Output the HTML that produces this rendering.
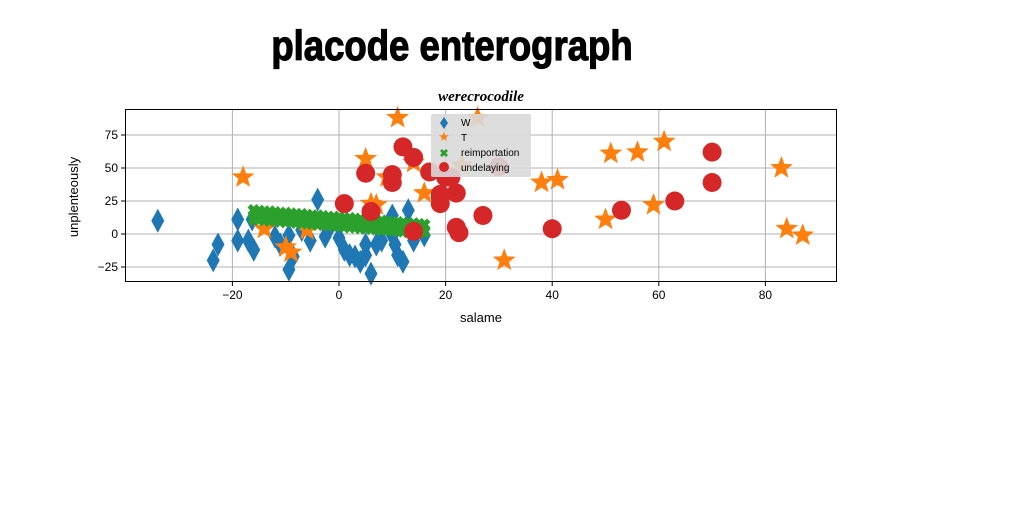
<!DOCTYPE html>
<html><head><meta charset="utf-8">
<style>
body{margin:0;background:#fff;width:1024px;height:512px;overflow:hidden;font-family:"Liberation Sans",sans-serif}
</style></head>
<body>
<svg id="chart" width="1024" height="512">
<text x="452" y="60" text-anchor="middle" font-family="'Liberation Sans Narrow','Liberation Sans',sans-serif" font-weight="bold" font-size="42" stroke="#000" stroke-width="1.2" transform="translate(452,0) scale(0.87,1) translate(-452,0)">placode enterograph</text>
<text x="481" y="101" text-anchor="middle" font-family="'Liberation Serif',serif" font-style="italic" font-weight="bold" font-size="15">werecrocodile</text>
<g id="grid"></g>
<g id="marks"></g>
<rect x="125.5" y="109.5" width="711" height="172" fill="none" stroke="#000" stroke-width="1"/>
<g id="axes"></g>
<text x="481" y="322" text-anchor="middle" font-size="13">salame</text>
<text transform="translate(78,197) rotate(-90)" text-anchor="middle" font-size="13">unplenteously</text>
<g>
<rect x="431" y="114" width="100" height="63" fill="#d9d9d9" opacity="0.9" rx="2"/>
<path d="M444 117 L448 123 L444 129 L440 123Z" fill="#1f77b4"/>
<text x="461" y="126" font-size="10">W</text>
<text x="444" y="141" font-size="13" fill="#ff7f0e" text-anchor="middle">★</text>
<text x="461" y="141" font-size="10">T</text>
<text x="444" y="157" font-size="11" fill="#2ca02c" text-anchor="middle" font-weight="bold">✖</text>
<text x="461" y="156" font-size="10">reimportation</text>
<circle cx="444" cy="167" r="5" fill="#d62728"/>
<text x="461" y="171" font-size="10">undelaying</text>
</g>
</svg>
<script>
const xTicks=[-20,0,20,40,60,80];
const yTicks=[-25,0,25,50,75];
const wX=[-34,-23.6,-22.7,-19,-19,-16.3,-17,-16,-12,-9.4,-9.4,-8.6,-5.4,-4,-2.6,0,1,2,3,5,5,6,7,8,10,10,10.5,12,13,16,14,11,4,-7,-11,-2];
const wY=[10,-20,-8,11,-5,11,-5,-12,-2,-27,-1,-17,-5,26,-2,-3,-12,-16,-17,-16,-8,-30,-8,-5,14,-1,-8,-21,18,-1,-5,-16,-21,3,-8,3];
const tX=[-18,5,11,26,14,23,16,38,41,51,56,61,83,59,50,84,87,31,7,6,-14,-6,-10,-9,9];
const tY=[43,57,88,88,54,52,31,39,41,61,62,70,50,22,11,4,-1,-20,22,23,4,3,-10,-14,43];
const gX=[-16,-15,-14,-13,-12,-11,-10,-9,-8,-7,-6,-5,-4,-3,-2,-1,0,1,2,3,4,5,6,7,8,9,10,11,12,13,14,15,16,
-15.5,-14.5,-13.5,-12.5,-11.5,-10.5,-9.5,-8.5,-7.5,-6.5,-5.5,-4.5,-3.5,-2.5,-1.5,-0.5,0.5,1.5,2.5,3.5,4.5,5.5,6.5,7.5,8.5,9.5,10.5,11.5,12.5,13.5,14.5,15.5,
-16,-15,-14,-13,-12,-11,-10,-9,-8,-7,-6,-5,-4,-3,-2,-1,0,1,2,3,4,5,6,7,8,9,10,11,12,13,14,15,16];
const gY=[18,17.5,17,17,16.5,16,16,15.5,15,15,14.5,14,14,13.5,13,13,12.5,12,12,11.5,11,11,10.5,10,10,9.5,9,9,8.5,8,8,7.5,7,
14,13.5,13.5,13,12.5,12.5,12,11.5,11.5,11,10.5,10.5,10,9.5,9.5,9,8.5,8.5,8,7.5,7.5,7,6.5,6.5,6,5.5,5.5,5,4.5,4.5,4,3.5,
11,11,10.5,10,10,9.5,9,9,8.5,8,8,7.5,7,7,6.5,6,6,5.5,5,5,4.5,4,4,3.5,3,3,2.5,2,2,1.5,1,1,1.5];
const rX=[12,14,5,10,10,1,6,14,17,19,20,21,30,19,22,19,27,22,22.5,40,53,63,70,70];
const rY=[66,58,46,45,39,23,17,2,47,28,43,43,51,30,31,23,14,5,1,4,18,25,62,39];
const NS="http://www.w3.org/2000/svg";
const X0=125,X1=837,Y0=109,Y1=282;
const sx=v=>339+v*5.33, sy=v=>234-v*1.32;
const grid=document.getElementById('grid'),axes=document.getElementById('axes'),marks=document.getElementById('marks');
function mk(tag,attrs,parent){const e=document.createElementNS(NS,tag);for(const k in attrs)e.setAttribute(k,attrs[k]);parent.appendChild(e);return e;}
xTicks.forEach(t=>{const x=sx(t);
 const g=mk('line',{x1:x,x2:x,y1:Y0,y2:Y1,stroke:'#b0b0b0','stroke-width':1},grid);
 
 
 mk('line',{x1:x,x2:x,y1:Y1,y2:Y1+4,stroke:'#000'},axes);
 const l=mk('text',{x:x,y:Y1+17,'text-anchor':'middle','font-size':12},axes);l.textContent=(t<0?'\u2212'+(-t):t);
 
 });
yTicks.forEach(t=>{const y=sy(t);
 const g=mk('line',{x1:X0,x2:X1,y1:y,y2:y,stroke:'#b0b0b0','stroke-width':1},grid);
 
 
 mk('line',{x1:X0-4,x2:X0,y1:y,y2:y,stroke:'#000'},axes);
 const l=mk('text',{x:X0-7,y:y+4,'text-anchor':'end','font-size':12},axes);l.textContent=(t<0?'\u2212'+(-t):t);
 
 });
function star(cx,cy,R){let p=[];for(let i=0;i<10;i++){const r=i%2?R*0.42:R;const a=-Math.PI/2+i*Math.PI/5;p.push((cx+r*Math.cos(a)).toFixed(1)+','+(cy+r*Math.sin(a)).toFixed(1));}return p.join(' ');}
wX.forEach((v,i)=>{const x=sx(v),y=sy(wY[i]);
 const e=mk('path',{d:`M${x} ${y-12}L${x+6.5} ${y}L${x} ${y+12}L${x-6.5} ${y}Z`,fill:'#1f77b4'},marks);
 
 });
tX.forEach((v,i)=>{
 const e=mk('polygon',{points:star(sx(v),sy(tY[i]),12),fill:'#ff7f0e'},marks);
 
 });
gX.forEach((v,i)=>{const x=sx(v),y=sy(gY[i]);
 const e=mk('path',{d:`M${x-4.5} ${y-4.5}L${x+4.5} ${y+4.5}M${x+4.5} ${y-4.5}L${x-4.5} ${y+4.5}`,stroke:'#2ca02c','stroke-width':5},marks);
 
 });
rX.forEach((v,i)=>{
 const e=mk('circle',{cx:sx(v),cy:sy(rY[i]),r:9.5,fill:'#d62728'},marks);
 
 });
</script>
</body></html>
